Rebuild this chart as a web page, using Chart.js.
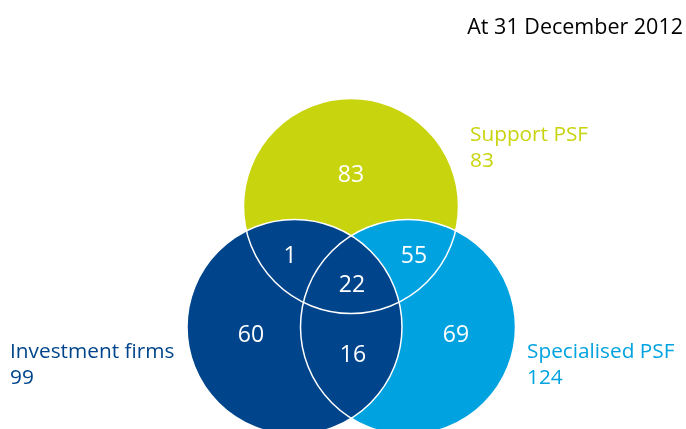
<!DOCTYPE html>
<html>
<head>
<meta charset="utf-8">
<script src="https://cdn.jsdelivr.net/npm/chart.js@4/dist/chart.umd.min.js"></script>
<style>
  html, body { margin: 0; padding: 0; background: #fff; }
  #wrap { width: 686px; height: 429px; position: relative; }
</style>
</head>
<body>
<div id="wrap"><canvas id="venn"></canvas></div>
<script>
// data
var title = 'At 31 December 2012'
var setNames = ['Investment firms', 'Specialised PSF', 'Support PSF']
var setTotals = [99, 124, 83]
var setColors = ['#00458b', '#00a3e0', '#c8d40e']

// regions of the diagram and the counts printed in them
var regionNames = ['Support only', 'Investment + Support', 'Specialised + Support', 'All three',
                   'Investment only', 'Investment + Specialised', 'Specialised only']
var regionCounts = [83, 1, 55, 22, 60, 16, 69]

// layout (in axis units, 1 unit = 1 px)
var circleX = [294.5, 408, 351]
var circleY = [327, 327, 206]
var circleR = 107.5
var regionX = [351, 290, 414, 352, 251, 353, 456]
var regionY = [175, 256, 256, 285, 335, 355, 335]
var setLabelX = [10, 527, 470]
var setLabelY = [352, 352, 135]

var FONT = '"Open Sans", "Noto Sans", sans-serif'

function radiusPx(c){
  var s = c.chart.scales.x
  if(!s || !s.width) return 0
  return s.getPixelForValue(circleR) - s.getPixelForValue(0)
}

var datasets = []
for(let i=0; i<setNames.length; i++){
  datasets.push({
    label: setNames[i],
    data: [{x: circleX[i], y: circleY[i]}],
    backgroundColor: setColors[i],
    borderWidth: 0,
    pointRadius: radiusPx,
    pointHoverRadius: radiusPx,
    pointBorderWidth: 0,
    showLine: false,
    order: i   // dark blue on top, then light blue, then green
  })
}

var vennText = {
  id: 'vennText',
  afterDatasetsDraw(chart){
    var ctx = chart.ctx
    var xs = chart.scales.x, ys = chart.scales.y
    ctx.save()
    // white outlines of every circle
    ctx.strokeStyle = '#ffffff'
    ctx.lineWidth = 1.5
    for(let i=0; i<circleX.length; i++){
      ctx.beginPath()
      ctx.arc(xs.getPixelForValue(circleX[i]), ys.getPixelForValue(circleY[i]),
              xs.getPixelForValue(circleR) - xs.getPixelForValue(0), 0, Math.PI*2)
      ctx.stroke()
    }
    // region counts
    ctx.fillStyle = '#ffffff'
    ctx.font = '23px ' + FONT
    ctx.textAlign = 'center'
    ctx.textBaseline = 'middle'
    for(let i=0; i<regionCounts.length; i++){
      ctx.fillText(String(regionCounts[i]), xs.getPixelForValue(regionX[i]), ys.getPixelForValue(regionY[i]))
    }
    // set names and totals
    ctx.textAlign = 'left'
    ctx.font = '20.8px ' + FONT
    for(let i=0; i<setNames.length; i++){
      ctx.fillStyle = setColors[i]
      var lx = xs.getPixelForValue(setLabelX[i]), ly = ys.getPixelForValue(setLabelY[i])
      ctx.fillText(setNames[i], lx, ly)
      ctx.fillText(String(setTotals[i]), lx, ly + 26)
    }
    // title
    ctx.fillStyle = '#000000'
    ctx.textAlign = 'right'
    ctx.font = '21.5px ' + FONT
    ctx.fillText(title, xs.getPixelForValue(683), ys.getPixelForValue(28))
    ctx.restore()
  }
}

const myChart = new Chart(document.getElementById('venn').getContext('2d'), {
  type: 'scatter',
  data: { datasets: datasets },
  options: {
    responsive: true,
    maintainAspectRatio: false,
    animation: false,
    events: [],
    layout: { padding: 0 },
    plugins: { legend: { display: false }, tooltip: { enabled: false } },
    scales: {
      x: { type: 'linear', min: 0, max: 686, display: false },
      y: { type: 'linear', min: 0, max: 429, reverse: true, display: false }
    }
  },
  plugins: [vennText]
})
</script>
</body>
</html>
